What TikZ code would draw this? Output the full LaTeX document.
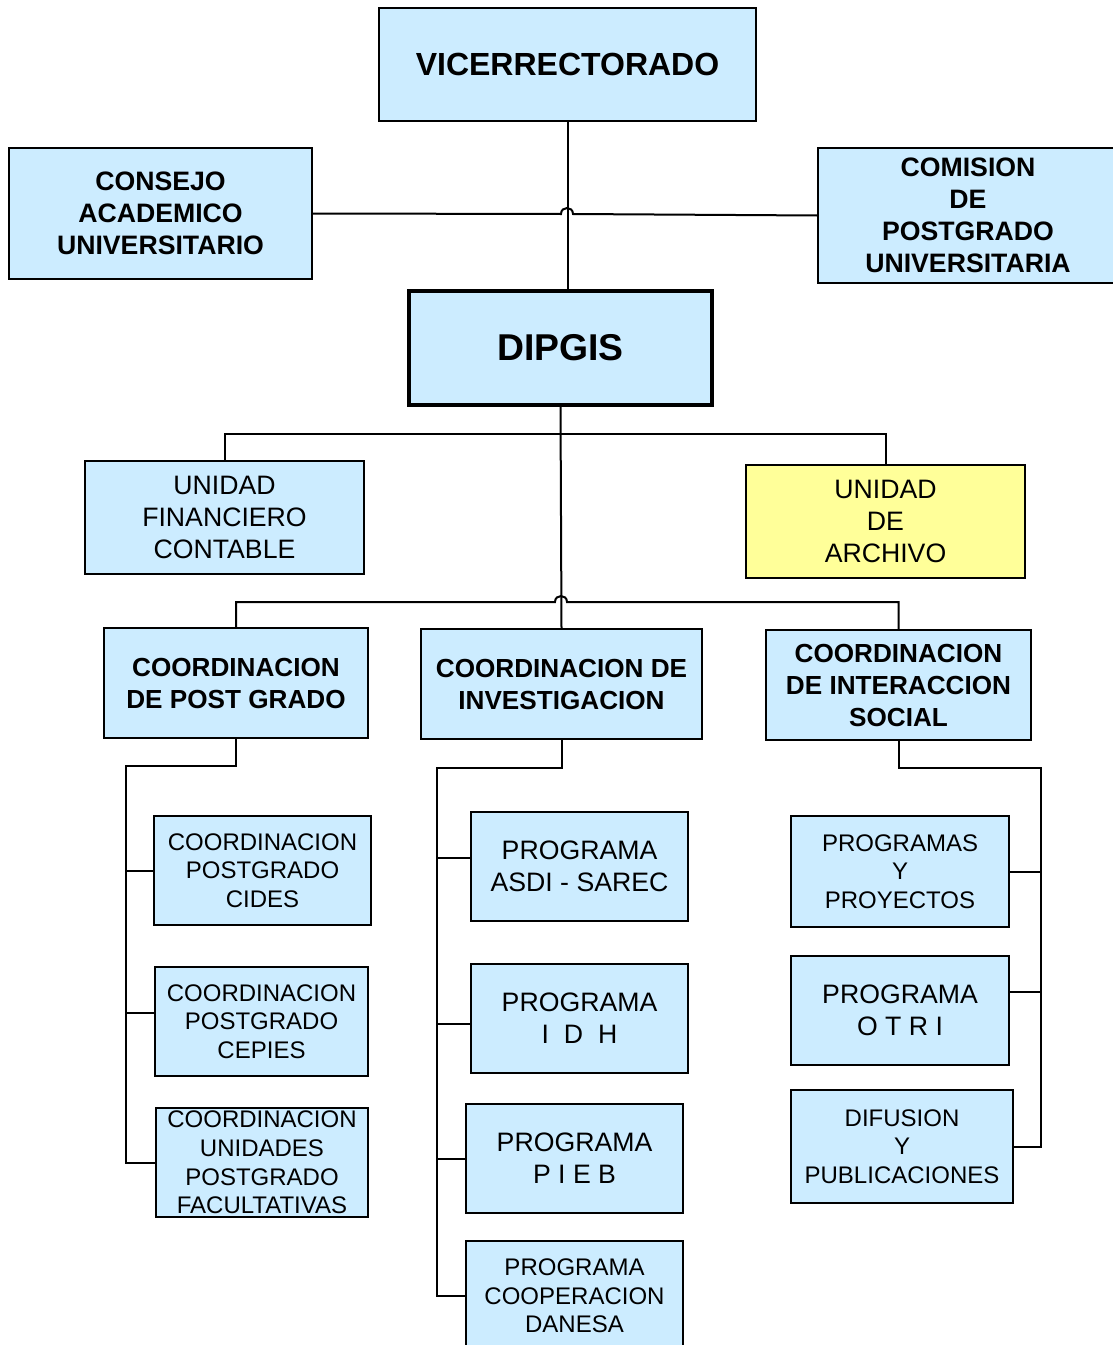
\documentclass[tikz,border=0pt]{standalone}
\usepackage{fontspec}
\setmainfont{Liberation Sans}
\usetikzlibrary{calc}
\definecolor{boxblue}{HTML}{CCECFF}
\definecolor{boxyellow}{HTML}{FFFF99}
\tikzset{
  bx/.style={draw=black, line width=1.1pt, fill=boxblue, align=center, inner sep=0pt, text=black},
  thickbx/.style={line width=2.4pt},
  yel/.style={fill=boxyellow},
  hvice/.style={font=\bfseries\fontsize{24}{28}\selectfont},
  hdip/.style={font=\bfseries\fontsize{28}{32}\selectfont},
  hb/.style={font=\bfseries\fontsize{20}{24}\selectfont},
  hc/.style={font=\bfseries\fontsize{19.6}{24}\selectfont},
  tn/.style={font=\fontsize{20}{24}\selectfont},
  ts/.style={font=\fontsize{18}{21.5}\selectfont},
  link/.style={draw=black, line width=1.5pt},
}
\newcommand\orgbox[7]{\node[bx,#6,minimum width={(#4-#2)*0.75pt},minimum height={(#5-#3)*0.75pt}] (#1) at ({(#2+#4)/2},{(#3+#5)/2}) {#7};}
\begin{document}
\begin{tikzpicture}[x=0.75pt,y=-0.75pt]
\useasboundingbox[fill=white] (0,0) rectangle (1113,1345);
% boxes
\orgbox{vice}{379}{8}{756}{121}{hvice}{VICERRECTORADO}
\orgbox{consejo}{9}{148}{312}{279}{hb}{CONSEJO\\ACADEMICO\\UNIVERSITARIO}
\orgbox{comision}{818}{148}{1118}{283}{hb}{COMISION\\DE\\POSTGRADO\\UNIVERSITARIA}
\orgbox{dipgis}{409}{291}{712}{405}{hdip,thickbx}{DIPGIS}
\orgbox{fin}{85}{461}{364}{574}{tn}{UNIDAD\\FINANCIERO\\CONTABLE}
\orgbox{arch}{746}{465}{1025}{578}{tn,yel}{UNIDAD\\DE\\ARCHIVO}
\orgbox{pg}{104}{628}{368}{738}{hc}{COORDINACION\\DE POST GRADO}
\orgbox{inv}{421}{629}{702}{739}{hc}{COORDINACION DE\\INVESTIGACION}
\orgbox{is}{766}{630}{1031}{740}{hc}{COORDINACION\\DE INTERACCION\\SOCIAL}
\orgbox{cides}{154}{816}{371}{925}{ts}{COORDINACION\\POSTGRADO\\CIDES}
\orgbox{cepies}{155}{967}{368}{1076}{ts}{COORDINACION\\POSTGRADO\\CEPIES}
\orgbox{fac}{156}{1108}{368}{1217}{ts}{COORDINACION\\UNIDADES\\POSTGRADO\\FACULTATIVAS}
\orgbox{asdi}{471}{812}{688}{921}{tn}{PROGRAMA\\ASDI - SAREC}
\orgbox{idh}{471}{964}{688}{1073}{tn}{PROGRAMA\\I\ \ D\ \ H}
\orgbox{pieb}{466}{1104}{683}{1213}{tn}{PROGRAMA\\P I E B}
\orgbox{dan}{466}{1241}{683}{1351}{ts}{PROGRAMA\\COOPERACION\\DANESA}
\orgbox{prog}{791}{816}{1009}{927}{ts}{PROGRAMAS\\Y\\PROYECTOS}
\orgbox{otri}{791}{956}{1009}{1065}{tn}{PROGRAMA\\O T R I}
\orgbox{dif}{791}{1090}{1013}{1203}{ts}{DIFUSION\\Y\\PUBLICACIONES}
% top connectors
\draw[link] (vice.south) -- (vice.south |- dipgis.north);
\coordinate (hopA) at (561,214);
\coordinate (hopB) at (573,214);
\draw[link] (consejo.east) -- (hopA) .. controls (561,206) and (573,206) .. (hopB) -- (comision.west);
% dipgis to second level
\draw[link] (dipgis.south) -- (inv.north);
\draw[link] (fin.north) -- ++(0,-26) -| (arch.north);
\coordinate (hopC) at (555,602);
\coordinate (hopD) at (567,602);
\draw[link] (pg.north) |- (hopC) .. controls (555,594) and (567,594) .. (hopD) -| (is.north);
% left tree
\coordinate (lb) at (126,766);
\coordinate (cepB) at ([yshift=6.4pt]cepies.west);
\draw[link] (pg.south) |- (lb) -- (lb |- fac.west) -- (fac.west);
\draw[link] (lb |- cides.west) -- (cides.west);
\draw[link] (lb |- cepB) -- (cepB);
% middle tree
\coordinate (mb) at (437,768);
\coordinate (asdB) at ([yshift=6.4pt]asdi.west);
\coordinate (idhB) at ([yshift=-4.1pt]idh.west);
\draw[link] (inv.south) |- (mb) -- (mb |- dan.west) -- (dan.west);
\draw[link] (mb |- asdB) -- (asdB);
\draw[link] (mb |- idhB) -- (idhB);
\draw[link] (mb |- pieb.west) -- (pieb.west);
% right tree
\coordinate (rb) at (1041,768);
\coordinate (otB) at ([yshift=13.9pt]otri.east);
\draw[link] (is.south) |- (rb) -- (rb |- dif.east) -- (dif.east);
\draw[link] (rb |- prog.east) -- (prog.east);
\draw[link] (rb |- otB) -- (otB);
\end{tikzpicture}
\end{document}
